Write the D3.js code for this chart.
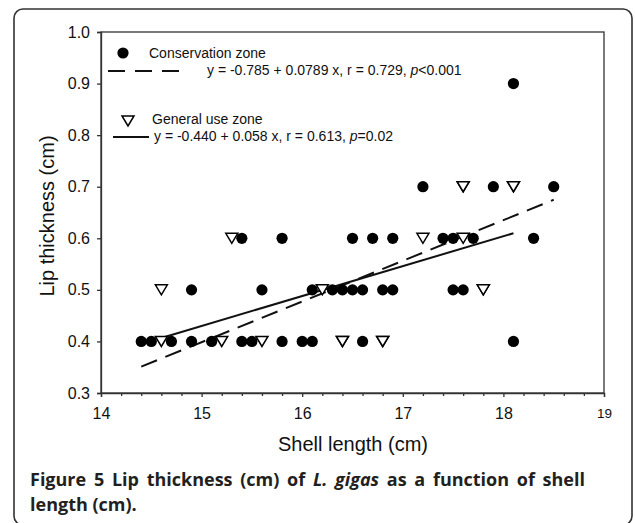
<!DOCTYPE html>
<html>
<head>
<meta charset="utf-8">
<script src="https://cdn.jsdelivr.net/npm/d3@7"></script>
<style>
  body { margin: 0; background: #fff; }
  svg { display: block; }
</style>
</head>
<body>
<div id="wrapper"></div>
<script>
// Conservation zone (filled circles)
const consLength = [14.4, 14.5, 14.7, 14.9, 15.1, 15.4, 15.5, 15.8, 16.0, 16.1, 16.6, 18.1,
                    14.9, 15.6, 16.1, 16.3, 16.4, 16.5, 16.6, 16.8, 16.9, 17.5, 17.6,
                    15.4, 15.8, 16.5, 16.7, 16.9, 17.4, 17.5, 17.7, 18.3,
                    17.2, 17.9, 18.5,
                    18.1]
const consLip = [0.4, 0.4, 0.4, 0.4, 0.4, 0.4, 0.4, 0.4, 0.4, 0.4, 0.4, 0.4,
                 0.5, 0.5, 0.5, 0.5, 0.5, 0.5, 0.5, 0.5, 0.5, 0.5, 0.5,
                 0.6, 0.6, 0.6, 0.6, 0.6, 0.6, 0.6, 0.6, 0.6,
                 0.7, 0.7, 0.7,
                 0.9]
// General use zone (open triangles)
const genLength = [14.6, 15.2, 15.6, 16.4, 16.4, 16.8, 16.8,
                   14.6, 16.2, 17.8, 17.8,
                   15.3, 17.2, 17.6,
                   17.6, 17.6, 18.1, 18.1]
const genLip = [0.4, 0.4, 0.4, 0.4, 0.4, 0.4, 0.4,
                0.5, 0.5, 0.5, 0.5,
                0.6, 0.6, 0.6,
                0.7, 0.7, 0.7, 0.7]

// regression fits: [intercept, slope, xmin, xmax]
const consFit = [-0.785, 0.0789, 14.4, 18.5]
const genFit = [-0.440, 0.058, 14.6, 18.1]

const xTicks = [14, 15, 16, 17, 18, 19]
const xMinorTicks = [14.2, 14.4, 14.6, 14.8, 15.2, 15.4, 15.6, 15.8, 16.2, 16.4, 16.6, 16.8,
                     17.2, 17.4, 17.6, 17.8, 18.2, 18.4, 18.6, 18.8]
const yTicks = [0.3, 0.4, 0.5, 0.6, 0.7, 0.8, 0.9, 1.0]

const legendCons = ["Conservation zone", "y = -0.785 + 0.0789 x, r = 0.729, ", "p", "<0.001"]
const legendGen = ["General use zone", "y = -0.440 + 0.058 x, r = 0.613, ", "p", "=0.02"]

const dimensions = {
    width: 635, height: 523,
    margins: {top: 32, left: 101, right: 31, bottom: 130}
}
dimensions.boundsWidth = dimensions.width - dimensions.margins.left - dimensions.margins.right
dimensions.boundsHeight = dimensions.height - dimensions.margins.top - dimensions.margins.bottom

const svg = d3.select("#wrapper").append("svg")
    .attr("width", dimensions.width)
    .attr("height", dimensions.height)
    .style("font-family", "'Liberation Sans', Arial, sans-serif")

// outer rounded frame
svg.append("rect")
    .attr("x", 14).attr("y", 9)
    .attr("width", 618).attr("height", 516)
    .attr("rx", 9)
    .attr("fill", "none").attr("stroke", "#333").attr("stroke-width", 1.6)

const bounds = svg.append("g")
    .attr("transform", `translate(${dimensions.margins.left},${dimensions.margins.top})`)

const xScale = d3.scaleLinear().domain([14, 19]).range([0, dimensions.boundsWidth])
const yScale = d3.scaleLinear().domain([0.3, 1.0]).range([dimensions.boundsHeight, 0])

// box
bounds.append("rect")
    .attr("width", dimensions.boundsWidth).attr("height", dimensions.boundsHeight)
    .attr("fill", "none").attr("stroke", "#333").attr("stroke-width", 1.3)

// axes
const yAxis = bounds.append("g")
    .call(d3.axisLeft(yScale).tickValues(yTicks).tickFormat(d3.format(".1f")).tickSize(4).tickPadding(7))
yAxis.selectAll("text").attr("font-size", 16).attr("fill", "#111").attr("font-family", null)

const xAxis = bounds.append("g")
    .attr("transform", `translate(0,${dimensions.boundsHeight})`)
    .call(d3.axisBottom(xScale).tickValues(xTicks).tickFormat(d3.format("d")).tickSize(4).tickPadding(11))
xAxis.selectAll("text").attr("font-size", d => d === 19 ? 13.5 : 16).attr("fill", "#111").attr("font-family", null)
bounds.append("g")
    .attr("transform", `translate(0,${dimensions.boundsHeight})`)
    .call(d3.axisBottom(xScale).tickValues(xMinorTicks).tickFormat("").tickSize(3))
    .select(".domain").remove()
bounds.selectAll(".domain, .tick line").attr("stroke", "#333").attr("stroke-width", 1.3)

// axis titles
svg.append("text")
    .attr("x", 353).attr("y", 451)
    .attr("text-anchor", "middle").attr("font-size", 20).attr("fill", "#111")
    .text("Shell length (cm)")
svg.append("text")
    .attr("transform", "translate(54,216) rotate(-90)")
    .attr("text-anchor", "middle").attr("font-size", 20).attr("fill", "#111")
    .text("Lip thickness (cm)")

// regression lines
const fitLine = f => [[f[2], f[0] + f[1] * f[2]], [f[3], f[0] + f[1] * f[3]]]
const line = d3.line().x(d => xScale(d[0])).y(d => yScale(d[1]))
bounds.append("path").attr("d", line(fitLine(consFit)))
    .attr("fill", "none").attr("stroke", "#111").attr("stroke-width", 2).attr("stroke-dasharray", "17,9")
bounds.append("path").attr("d", line(fitLine(genFit)))
    .attr("fill", "none").attr("stroke", "#111").attr("stroke-width", 2)

// points
const triangle = "M-6,-5L6,-5L0,5Z"
bounds.selectAll("circle.cons").data(d3.range(consLength.length)).enter()
    .append("circle").attr("class", "cons")
    .attr("cx", i => xScale(consLength[i])).attr("cy", i => yScale(consLip[i]))
    .attr("r", 5.6).attr("fill", "#000")
bounds.selectAll("path.gen").data(d3.range(genLength.length)).enter()
    .append("path").attr("class", "gen")
    .attr("d", triangle)
    .attr("transform", i => `translate(${xScale(genLength[i])},${yScale(genLip[i])})`)
    .attr("fill", "#fff").attr("stroke", "#000").attr("stroke-width", 1.5)

// legend
const legend = svg.append("g").attr("font-size", 14).attr("fill", "#111")
legend.append("circle").attr("cx", 123).attr("cy", 53).attr("r", 5.6).attr("fill", "#000")
legend.append("text").attr("x", 149).attr("y", 58).text(legendCons[0])
legend.append("line").attr("x1", 108).attr("x2", 182).attr("y1", 71).attr("y2", 71)
    .attr("stroke", "#111").attr("stroke-width", 2).attr("stroke-dasharray", "17,10")
const t1 = legend.append("text").attr("x", 207).attr("y", 75)
t1.append("tspan").text(legendCons[1])
t1.append("tspan").attr("font-style", "italic").text(legendCons[2])
t1.append("tspan").text(legendCons[3])

legend.append("path").attr("d", triangle).attr("transform", "translate(128,121)")
    .attr("fill", "#fff").attr("stroke", "#000").attr("stroke-width", 1.5)
legend.append("text").attr("x", 152).attr("y", 124).text(legendGen[0])
legend.append("line").attr("x1", 113).attr("x2", 149).attr("y1", 137).attr("y2", 137)
    .attr("stroke", "#111").attr("stroke-width", 2)
const t2 = legend.append("text").attr("x", 154).attr("y", 141)
t2.append("tspan").text(legendGen[1])
t2.append("tspan").attr("font-style", "italic").text(legendGen[2])
t2.append("tspan").text(legendGen[3])

// caption (first line justified to the column width)
const caption = svg.append("g")
    .attr("font-family", "'Open Sans', 'Noto Sans', sans-serif")
    .attr("font-weight", "bold").attr("font-size", 18).attr("fill", "#231f20")
const c1 = caption.append("text").attr("x", 30).attr("y", 486)
c1.append("tspan").text("Figure 5 Lip thickness (cm) of ")
c1.append("tspan").attr("font-style", "italic").text("L. gigas")
c1.append("tspan").text(" as a function of shell")
const natural = c1.node().getComputedTextLength()
c1.attr("word-spacing", Math.max(0, (555 - natural) / 12))
caption.append("text").attr("x", 30).attr("y", 511).text("length (cm).")
</script>
</body>
</html>
